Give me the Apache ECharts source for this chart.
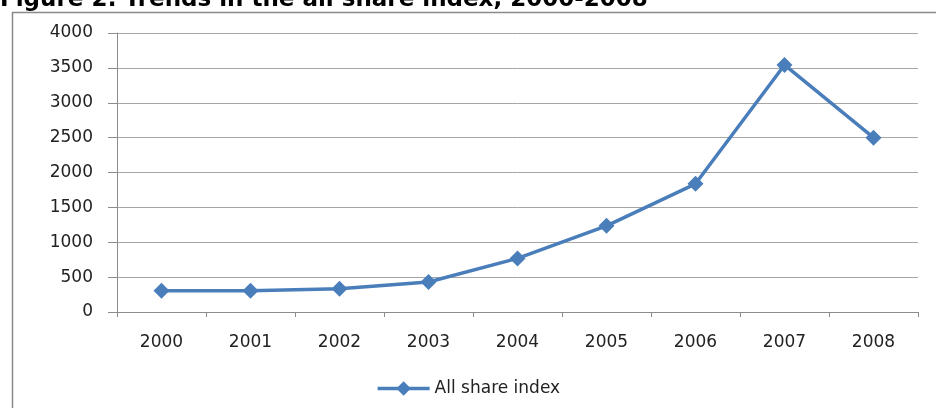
<!DOCTYPE html>
<html>
<head>
<meta charset="utf-8">
<script src="https://cdn.jsdelivr.net/npm/echarts@6/dist/echarts.min.js"></script>
<style>
  html, body { margin: 0; padding: 0; background: #fff; }
  #chart { width: 936px; height: 408px; }
</style>
</head>
<body>
<div id="chart"></div>
<script>
// data
const years = ['2000', '2001', '2002', '2003', '2004', '2005', '2006', '2007', '2008']
const allShareIndex = [305, 305, 334, 430, 768, 1235, 1838, 3542, 2500]
const seriesName = 'All share index'
const titleText = 'Figure 2: Trends in the all share index, 2000-2008'

const chart = echarts.init(document.getElementById('chart'))

const labelFont = {
  fontFamily: 'DejaVu Sans',
  fontSize: 17,
  color: '#222'
}

chart.setOption({
  animation: false,
  graphic: [
    {
      type: 'rect',
      shape: { x: 12.5, y: 12.5, width: 940, height: 420 },
      style: { fill: 'none', stroke: '#8a8a8a', lineWidth: 1.5 }
    },
    {
      type: 'text',
      left: 0,
      top: -11,
      style: {
        text: titleText,
        font: 'bold 23px "DejaVu Sans"',
        fill: '#000'
      }
    }
  ],
  grid: {
    left: 117,
    right: 18,
    top: 33,
    bottom: 96
  },
  legend: {
    bottom: 6,
    left: 'center',
    itemWidth: 52,
    itemHeight: 18,
    itemGap: 8,
    textStyle: { ...labelFont },
    lineStyle: { width: 3.5 },
    data: [seriesName]
  },
  xAxis: {
    type: 'category',
    data: years,
    boundaryGap: true,
    axisLine: { lineStyle: { color: '#8c8c8c', width: 1 } },
    axisTick: { show: true, length: 5, lineStyle: { color: '#8c8c8c' } },
    axisLabel: { ...labelFont, margin: 22 },
    splitLine: { show: false }
  },
  yAxis: {
    type: 'value',
    min: 0,
    max: 4000,
    interval: 500,
    axisLine: { show: true, lineStyle: { color: '#8c8c8c', width: 1 } },
    axisTick: { show: true, length: 9, lineStyle: { color: '#8c8c8c' } },
    axisLabel: { ...labelFont, margin: 24, formatter: (v) => String(v) },
    splitLine: { show: true, lineStyle: { color: '#a6a6a6', width: 1 } }
  },
  series: [{
    name: seriesName,
    type: 'line',
    data: allShareIndex,
    symbol: 'diamond',
    symbolSize: 16,
    lineStyle: { color: '#4a7ebb', width: 3.5 },
    itemStyle: { color: '#4a7ebb' }
  }]
})
</script>
</body>
</html>
